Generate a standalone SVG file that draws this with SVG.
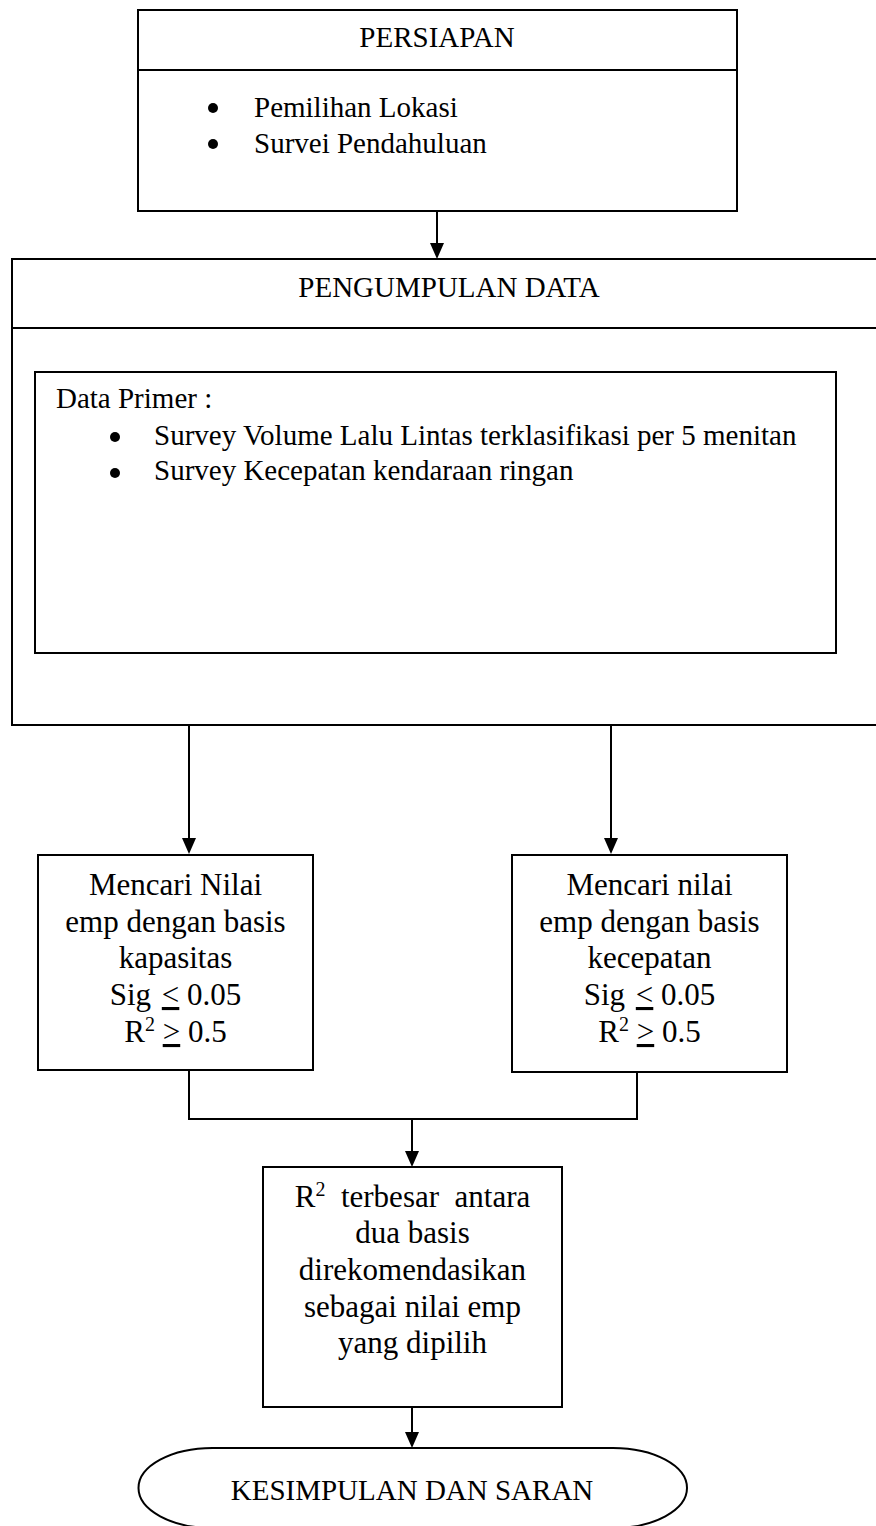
<svg xmlns="http://www.w3.org/2000/svg" width="876" height="1526" viewBox="0 0 876 1526">
<style>
.box{fill:#fff;stroke:#000;stroke-width:2}
.ln{fill:none;stroke:#000;stroke-width:2}
.t{font-family:"Liberation Serif","Times New Roman",serif;fill:#000}
.h{font-size:29px}
.b{font-size:31px}
.c{text-anchor:middle}
.u{text-decoration:underline}
.sup{font-size:20px}
</style>
<defs>
<marker id="arr" viewBox="0 0 16 14" refX="8" refY="7" markerWidth="16" markerHeight="14" markerUnits="userSpaceOnUse" orient="auto">
<path d="M0,0 L16,7 L0,14 z" fill="#000"/>
</marker>
</defs>
<rect width="876" height="1526" fill="#fff"/>

<g id="connectors">
<line class="ln" x1="437" y1="211" x2="437" y2="251" marker-end="url(#arr)"/>
<line class="ln" x1="189" y1="725" x2="189" y2="846" marker-end="url(#arr)"/>
<line class="ln" x1="611" y1="725" x2="611" y2="846" marker-end="url(#arr)"/>
<polyline class="ln" points="189,1071 189,1119 637,1119 637,1072"/>
<line class="ln" x1="412" y1="1119" x2="412" y2="1159" marker-end="url(#arr)"/>
<line class="ln" x1="412" y1="1407" x2="412" y2="1440" marker-end="url(#arr)"/>
</g>

<g id="persiapan">
<rect class="box" x="138" y="10" width="599" height="201"/>
<line class="ln" x1="138" y1="70" x2="737" y2="70"/>
<text class="t h c" x="437" y="47">PERSIAPAN</text>
<circle cx="213" cy="108" r="5" fill="#000"/>
<circle cx="213" cy="144" r="5" fill="#000"/>
<text class="t h" x="254" y="117">Pemilihan Lokasi</text>
<text class="t h" x="254" y="153">Survei Pendahuluan</text>
</g>

<g id="pengumpulan">
<rect class="box" x="12" y="259" width="880" height="466"/>
<line class="ln" x1="12" y1="328" x2="876" y2="328"/>
<text class="t h c" x="449" y="297">PENGUMPULAN DATA</text>
</g>

<g id="data-primer">
<rect class="box" x="35" y="372" width="801" height="281"/>
<text class="t h" x="56" y="408">Data Primer :</text>
<circle cx="115" cy="437" r="5" fill="#000"/>
<circle cx="115" cy="473" r="5" fill="#000"/>
<text class="t h" x="154" y="445">Survey Volume Lalu Lintas terklasifikasi per 5 menitan</text>
<text class="t h" x="154" y="480">Survey Kecepatan kendaraan ringan</text>
</g>

<g id="basis-kapasitas">
<rect class="box" x="38" y="855" width="275" height="215"/>
<text class="t b c" x="175.5" y="895">Mencari Nilai</text>
<text class="t b c" x="175.5" y="932">emp dengan basis</text>
<text class="t b c" x="175.5" y="968">kapasitas</text>
<text class="t b c" x="175.5" y="1005">Sig <tspan class="u" dx="3">&lt;</tspan> 0.05</text>
<text class="t b c" x="175.5" y="1042">R<tspan class="sup" dy="-11">2</tspan><tspan dy="11"> </tspan><tspan class="u">&gt;</tspan> 0.5</text>
</g>

<g id="basis-kecepatan">
<rect class="box" x="512" y="855" width="275" height="217"/>
<text class="t b c" x="649.5" y="895">Mencari nilai</text>
<text class="t b c" x="649.5" y="932">emp dengan basis</text>
<text class="t b c" x="649.5" y="968">kecepatan</text>
<text class="t b c" x="649.5" y="1005">Sig <tspan class="u" dx="3">&lt;</tspan> 0.05</text>
<text class="t b c" x="649.5" y="1042">R<tspan class="sup" dy="-11">2</tspan><tspan dy="11"> </tspan><tspan class="u">&gt;</tspan> 0.5</text>
</g>

<g id="r2-terbesar">
<rect class="box" x="263" y="1167" width="299" height="240"/>
<text class="t b c" x="412.5" y="1207">R<tspan class="sup" dy="-11">2</tspan><tspan dy="11">&#160; terbesar&#160; antara</tspan></text>
<text class="t b c" x="412.5" y="1243">dua basis</text>
<text class="t b c" x="412.5" y="1280">direkomendasikan</text>
<text class="t b c" x="412.5" y="1317">sebagai nilai emp</text>
<text class="t b c" x="412.5" y="1353">yang dipilih</text>
</g>

<g id="kesimpulan">
<rect class="box" x="138.5" y="1448" width="548.5" height="80" rx="74" ry="40"/>
<text class="t h c" x="412" y="1500">KESIMPULAN DAN SARAN</text>
</g>
</svg>
